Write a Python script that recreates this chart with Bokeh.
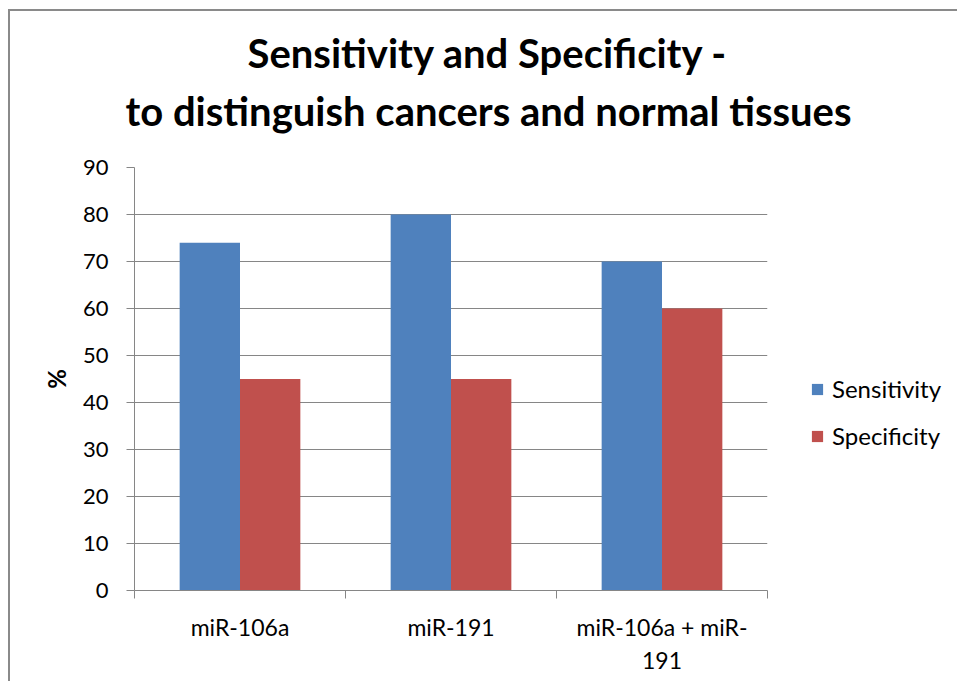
from bokeh.plotting import figure
from bokeh.models import FixedTicker, Legend, LegendItem, Title, ColumnDataSource
from bokeh.transform import dodge
from bokeh.embed import file_html
from bokeh.resources import INLINE

# ---- data ----
categories = ["miR-106a", "miR-191", "miR-106a + miR-191"]
tick_labels = ["miR-106a", "miR-191", "miR-106a + miR-\n191"]
series_names = ["Sensitivity", "Specificity"]
sensitivity = [74, 80, 70]
specificity = [45, 45, 60]
y_ticks = [0, 10, 20, 30, 40, 50, 60, 70, 80, 90]
title_lines = ["Sensitivity and Specificity  -", "to distinguish cancers and normal tissues"]
y_label = "%"

FONT = "Lato"
GRAY = "#868686"
BLUE = "#4F81BD"
RED = "#C0504D"

n = len(categories)
centers = [i + 0.5 for i in range(n)]
src = ColumnDataSource(dict(x=centers, sens=sensitivity, spec=specificity))

p = figure(frame_width=633, frame_height=423, title=None,
           x_range=(0, n), y_range=(0, y_ticks[-1]),
           output_backend="svg", toolbar_location=None,
           min_border_left=124, min_border_top=156,
           min_border_right=190, min_border_bottom=91)
p.styles = {"margin-left": "8px", "margin-top": "9px",
            "border-top": "2px solid #8a8a8a", "border-left": "2px solid #8a8a8a"}
p.outline_line_color = None
p.background_fill_color = "white"
p.border_fill_color = "white"

bw = 0.286
r1 = p.vbar(x=dodge("x", -bw / 2, range=p.x_range), top="sens", width=bw,
            source=src, fill_color=BLUE, line_color=None)
r2 = p.vbar(x=dodge("x", bw / 2, range=p.x_range), top="spec", width=bw,
            source=src, fill_color=RED, line_color=None)

# grid
p.xgrid.visible = False
p.ygrid.grid_line_color = GRAY
p.ygrid.grid_line_width = 1
p.ygrid.ticker = FixedTicker(ticks=y_ticks)

# x axis
xa = p.xaxis[0]
xa.ticker = FixedTicker(ticks=centers, minor_ticks=list(range(n + 1)))
xa.major_label_overrides = {c: lab for c, lab in zip(centers, tick_labels)}
xa.major_tick_out = 0
xa.major_tick_in = 0
xa.minor_tick_out = 8
xa.minor_tick_in = 0
xa.minor_tick_line_color = GRAY
xa.axis_line_color = GRAY
xa.major_label_standoff = 14
xa.major_label_text_font = FONT
xa.major_label_text_font_size = "23px"
xa.major_label_text_color = "black"

# y axis
ya = p.yaxis[0]
ya.ticker = FixedTicker(ticks=y_ticks, minor_ticks=[])
ya.major_tick_out = 8
ya.major_tick_in = 0
ya.major_tick_line_color = GRAY
ya.minor_tick_line_color = None
ya.axis_line_color = GRAY
ya.major_label_standoff = 18
ya.major_label_text_font = FONT
ya.major_label_text_font_size = "22px"
ya.major_label_text_color = "black"
ya.axis_label = y_label
ya.axis_label_text_font = FONT
ya.axis_label_text_font_style = "bold"
ya.axis_label_text_font_size = "24px"
ya.axis_label_text_color = "black"
ya.axis_label_standoff = 9

# legend (in right panel)
legend = Legend(items=[LegendItem(label=series_names[0], renderers=[r1]),
                       LegendItem(label=series_names[1], renderers=[r2])],
                location=(43, 140))
legend.glyph_width = 14
legend.glyph_height = 14
legend.label_height = 14
legend.label_standoff = 8
legend.spacing = 18
legend.padding = 0
legend.margin = 0
legend.border_line_color = None
legend.background_fill_alpha = 0
legend.label_text_font = FONT
legend.label_text_font_size = "24px"
legend.label_text_color = "black"
p.add_layout(legend, "right")

# title (two lines, second line nearest the plot)
title_offsets = [113, -9]
title_standoffs = [-49, 65]
for txt, off, so in reversed(list(zip(title_lines, title_offsets, title_standoffs))):
    p.add_layout(Title(text=txt, align="left", offset=off, standoff=so,
                       text_font=FONT, text_font_style="bold",
                       text_font_size="40px", text_color="black"), "above")

open("out.html", "w").write(file_html(p, INLINE))
